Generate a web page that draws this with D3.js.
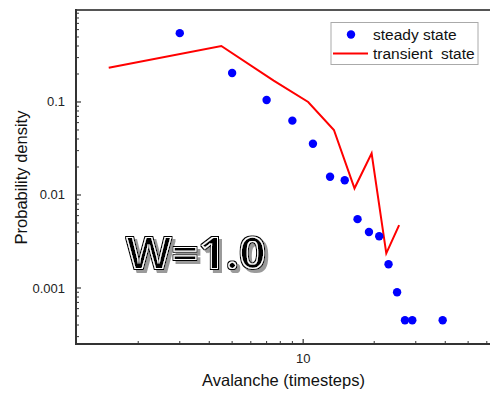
<!DOCTYPE html>
<html><head><meta charset="utf-8">
<script src="https://cdn.jsdelivr.net/npm/d3@7"></script>
<style>body{margin:0;background:#fff;}svg{display:block;font-family:"Liberation Sans",Arial,sans-serif;}</style>
</head><body>
<svg id="c" width="490" height="393"></svg>
<script>
const steadyX = [3,5,7,9,11,13,15,17,19,21,23,25,27,29,39];
const steadyY = [0.55,0.205,0.105,0.063,0.0356,0.0157,0.0144,0.0055,0.0040,0.0036,0.0018,0.0009,0.00045,0.00045,0.00045];
const transientX = [1.5,4.5,7.5,10.5,13.5,16.5,19.5,22.5,25.5];
const transientY = [0.234,0.40,0.17,0.10,0.05,0.0118,0.028,0.00236,0.00475];
const yTickValues = [0.001,0.01,0.1];
const yTickLabels = ["0.001","0.01","0.1"];
const xTickValues = [10];
const xTickLabels = ["10"];
const legendLabels = ["steady state","transient  state"];
const annotation = "W=1.0";

const svg = d3.select("#c");
const L=76, T=10, B=344;
const x = d3.scaleLog().domain([1.09,63]).range([L, L+236*Math.log10(63/1.09)]);
const y = d3.scaleLog().domain([0.00025,0.975]).range([B,T]);

// filter for annotation (inline + shadow)
const defs = svg.append("defs");
const f = defs.append("filter").attr("id","wa").attr("x","-10%").attr("y","-20%").attr("width","130%").attr("height","160%");
f.append("feMorphology").attr("in","SourceAlpha").attr("operator","dilate").attr("radius",1.2).attr("result","d1");
f.append("feMorphology").attr("in","SourceAlpha").attr("operator","erode").attr("radius",0.6).attr("result","e1");
f.append("feOffset").attr("in","d1").attr("dx",2.5).attr("dy",2.5).attr("result","off");
f.append("feFlood").attr("flood-color","#9a9a9a").attr("result","gc");
f.append("feComposite").attr("in","gc").attr("in2","off").attr("operator","in").attr("result","shadow");
f.append("feFlood").attr("flood-color","#000").attr("result","bc");
f.append("feComposite").attr("in","bc").attr("in2","d1").attr("operator","in").attr("result","outer");
f.append("feFlood").attr("flood-color","#fff").attr("result","wc");
f.append("feComposite").attr("in","wc").attr("in2","SourceAlpha").attr("operator","in").attr("result","ring");
f.append("feComposite").attr("in","bc").attr("in2","e1").attr("operator","in").attr("result","inner");
const m = f.append("feMerge");
["shadow","outer","ring","inner"].forEach(r=>m.append("feMergeNode").attr("in",r));

// minor ticks
const xMinor=[], yMinor=[];
[1,10].forEach(d=>{for(let k=2;k<=9;k++){const v=k*d; if(v>x.domain()[0]&&v<x.domain()[1]) xMinor.push(v);}});
[0.0001,0.001,0.01,0.1].forEach(d=>{for(let k=2;k<=9;k++){const v=k*d; if(v>y.domain()[0]&&v<y.domain()[1]) yMinor.push(v);}});

const ax = svg.append("g");
ax.selectAll(".ymn").data(yMinor).join("line").attr("x1",L).attr("x2",L+3).attr("y1",d=>y(d)).attr("y2",d=>y(d)).attr("stroke","#333").attr("stroke-width",1);
ax.selectAll(".ymj").data(yTickValues).join("line").attr("x1",L).attr("x2",L+5).attr("y1",d=>y(d)).attr("y2",d=>y(d)).attr("stroke","#333").attr("stroke-width",1.2);
ax.selectAll(".xmn").data(xMinor).join("line").attr("x1",d=>x(d)).attr("x2",d=>x(d)).attr("y1",B).attr("y2",B-3).attr("stroke","#333").attr("stroke-width",1);
ax.selectAll(".xmj").data(xTickValues).join("line").attr("x1",d=>x(d)).attr("x2",d=>x(d)).attr("y1",B).attr("y2",B-5).attr("stroke","#333").attr("stroke-width",1.2);

// spines
svg.append("line").attr("x1",L).attr("x2",490).attr("y1",T).attr("y2",T).attr("stroke","#555").attr("stroke-width",2);
svg.append("line").attr("x1",L).attr("x2",L).attr("y1",T-1).attr("y2",B+1).attr("stroke","#333").attr("stroke-width",2);
svg.append("line").attr("x1",L-1).attr("x2",490).attr("y1",B).attr("y2",B).attr("stroke","#333").attr("stroke-width",2);

// tick labels
svg.selectAll(".yl").data(yTickValues).join("text").attr("x",65).attr("y",d=>y(d)+4.5).attr("text-anchor","end").attr("font-size",13).attr("fill","#222").text((d,i)=>yTickLabels[i]);
svg.selectAll(".xl").data(xTickValues).join("text").attr("x",d=>x(d)).attr("y",363).attr("text-anchor","middle").attr("font-size",13).attr("fill","#222").text((d,i)=>xTickLabels[i]);

// axis titles
svg.append("text").attr("x",283.5).attr("y",386).attr("text-anchor","middle").attr("font-size",16.5).attr("fill","#111").text("Avalanche (timesteps)");
svg.append("text").attr("transform","translate(27,177.5) rotate(-90)").attr("text-anchor","middle").attr("font-size",16.5).attr("fill","#111").text("Probability density");

// transient line
const tData = transientX.map((v,i)=>[v,transientY[i]]);
svg.append("path").datum(tData).attr("d",d3.line().x(d=>x(d[0])).y(d=>y(d[1]))).attr("fill","none").attr("stroke","#ff0000").attr("stroke-width",2);

// steady points
svg.selectAll(".pt").data(steadyX.map((v,i)=>[v,steadyY[i]])).join("circle").attr("cx",d=>x(d[0])).attr("cy",d=>y(d[1])).attr("r",4.2).attr("fill","#0000ff");

// legend
const lg = svg.append("g");
lg.append("rect").attr("x",331).attr("y",22.5).attr("width",147).attr("height",42).attr("fill","#fff").attr("stroke","#aaa").attr("stroke-width",1);
lg.append("circle").attr("cx",351).attr("cy",34.5).attr("r",4.2).attr("fill","#0000ff");
lg.append("line").attr("x1",333).attr("x2",368).attr("y1",53.5).attr("y2",53.5).attr("stroke","#ff0000").attr("stroke-width",2);
lg.append("text").attr("x",373).attr("y",40).attr("font-size",15.5).attr("fill","#111").text(legendLabels[0]);
lg.append("text").attr("x",373).attr("y",59).attr("font-size",15.5).attr("fill","#111").attr("xml:space","preserve").style("white-space","pre").text(legendLabels[1]);

// annotation
svg.append("text").attr("x",126).attr("y",269).attr("font-family","'Open Sans',Lato,sans-serif").attr("font-weight","bold").attr("font-size",45)
  .attr("textLength",140).attr("lengthAdjust","spacingAndGlyphs").attr("fill","#000").attr("filter","url(#wa)").text(annotation);
</script>
</body></html>
